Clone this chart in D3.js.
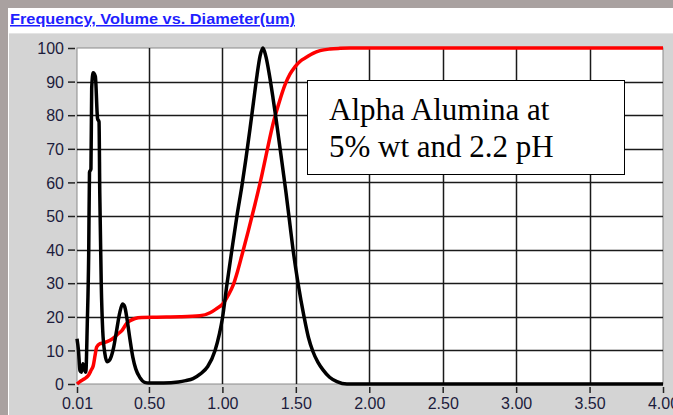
<!DOCTYPE html>
<html><head><meta charset="utf-8">
<script src="https://cdn.jsdelivr.net/npm/d3@7"></script>
<style>html,body{margin:0;padding:0;background:#fff;overflow:hidden}</style>
</head><body>
<svg id="c" width="673" height="415"></svg>
<script>
const title = "Frequency, Volume vs. Diameter(um)";
const annotationLines = ["Alpha Alumina at", "5% wt and 2.2 pH"];
const xTicks = [0.01, 0.5, 1.0, 1.5, 2.0, 2.5, 3.0, 3.5, 4.0];
const xTickLabels = ["0.01","0.50","1.00","1.50","2.00","2.50","3.00","3.50","4.00"];
const yTicks = [0,10,20,30,40,50,60,70,80,90,100];

// Frequency (black)
const freqX = [0.01,0.02,0.03,0.04,0.05,0.06,0.07,0.08,0.09,0.095,0.105,0.11,0.12,0.135,0.15,0.16,0.165,0.175,0.185,0.2,0.215,0.23,0.26,0.28,0.30,0.32,0.335,0.35,0.37,0.39,0.41,0.44,0.47,0.5,0.6,0.7,0.75,0.8,0.85,0.9,0.95,0.98,1.0,1.031,1.065,1.099,1.133,1.16,1.188,1.212,1.236,1.256,1.276,1.296,1.32,1.345,1.365,1.39,1.41,1.433,1.457,1.481,1.515,1.556,1.585,1.617,1.65,1.685,1.73,1.78,1.848,2.5,3.0,3.5,4.0];
const freqY = [13.5,10,4,3.5,6,4.5,3.5,18,40,63,64,88,92.6,91.5,79,78,57,30,16,9,6.6,7,11,16,21,23.8,23,19.5,13.5,8,4.5,1.8,0.5,0.3,0.3,0.6,1.0,1.6,3.0,5.2,10,15,19.5,29.7,40,50,59,67,76,84,92,97.5,100,97.5,92,85,79,71,64.5,57,48.5,40,30,20,14,9.6,6.5,4.2,2,0.7,0,0,0,0,0];

// Volume (red, cumulative)
const volX = [0.01,0.03,0.058,0.087,0.105,0.121,0.133,0.144,0.167,0.187,0.235,0.255,0.289,0.314,0.348,0.371,0.405,0.45,0.553,0.711,0.847,0.916,0.956,1.006,1.038,1.074,1.103,1.131,1.176,1.222,1.268,1.297,1.324,1.351,1.381,1.426,1.46,1.494,1.528,1.574,1.617,1.665,1.733,1.801,1.869,2.5,3.0,3.5,4.0];
const volY = [0,0.7,1.5,2.5,4,5.5,8.5,11,12,12.2,13,13.6,14.9,15.8,18,18.8,19.5,19.8,19.9,20,20.3,21.2,22.3,24,26.3,29.5,33.5,38,45.5,53.5,62,68,73.5,78.5,83,89,92.2,94.4,96,97.3,98.4,99.2,99.7,99.9,100,100,100,100,100];

const svg = d3.select("#c");
// background frames
svg.append("rect").attr("x",0).attr("y",0).attr("width",673).attr("height",415).attr("fill","#a9a1a0");
svg.append("rect").attr("x",8).attr("y",8).attr("width",665).attr("height",407).attr("fill","#ffffff");
svg.append("rect").attr("x",9).attr("y",33).attr("width",664).attr("height",382).attr("fill","#d4d4d4");
svg.append("line").attr("x1",9).attr("x2",673).attr("y1",33.5).attr("y2",33.5).attr("stroke","#e4e4e4");

svg.append("text").attr("x",10).attr("y",24).text(title)
  .attr("font-family","'Liberation Sans', Arial, sans-serif").attr("font-weight","bold").attr("font-size",15)
  .attr("fill","#1f1fff").attr("text-decoration","underline")
  .attr("textLength",285).attr("lengthAdjust","spacingAndGlyphs");

const x = d3.scaleLinear().domain([0.01,4.0]).range([77,663]);
const y = d3.scaleLinear().domain([0,100]).range([384,48]);

svg.append("rect").attr("x",77).attr("y",48).attr("width",586).attr("height",336).attr("fill","#fff").attr("stroke","#8a8a8a").attr("stroke-width",1);

// grid
const g = svg.append("g");
g.selectAll(".vg").data(xTicks.slice(1,-1)).join("line")
  .attr("x1",d=>Math.round(x(d))+0.5).attr("x2",d=>Math.round(x(d))+0.5).attr("y1",48).attr("y2",384)
  .attr("stroke","#1a1a1a").attr("stroke-width",1.5);
g.selectAll(".hg").data(yTicks.slice(1,-1)).join("line")
  .attr("y1",d=>Math.round(y(d))+0.5).attr("y2",d=>Math.round(y(d))+0.5).attr("x1",77).attr("x2",663)
  .attr("stroke","#1a1a1a").attr("stroke-width",1.5);

// axes
const font = "'Liberation Sans', Arial, sans-serif";
const yAxis = svg.append("g").attr("transform","translate(75,0)")
  .call(d3.axisLeft(y).tickValues(yTicks).tickSize(7).tickPadding(4).tickFormat(d3.format("d")));
const xAxis = svg.append("g").attr("transform","translate(0,387)")
  .call(d3.axisBottom(x).tickValues(xTicks).tickSize(6).tickPadding(5).tickFormat((d,i)=>xTickLabels[i]));
[yAxis,xAxis].forEach(a=>{
  a.select(".domain").remove();
  a.selectAll(".tick line").attr("stroke","#222").attr("stroke-width",1.5);
  a.selectAll(".tick text").attr("font-family",font).attr("font-size",16).attr("fill","#1c1c3c");
});
yAxis.selectAll(".tick text").attr("dy","0.35em");

const freq = freqX.map((v,i)=>[v,freqY[i]]);
const vol = volX.map((v,i)=>[v,volY[i]]);
const line = d3.line().x(d=>x(d[0])).y(d=>y(d[1])).curve(d3.curveMonotoneX);
svg.append("path").attr("d",line(vol)).attr("fill","none").attr("stroke","#ff0000").attr("stroke-width",3.5).attr("stroke-linejoin","round");
svg.append("path").attr("d",line(freq)).attr("fill","none").attr("stroke","#000").attr("stroke-width",3.5).attr("stroke-linejoin","round");

// annotation
svg.append("rect").attr("x",307.5).attr("y",80.5).attr("width",317).attr("height",94).attr("fill","#fff").attr("stroke","#000").attr("stroke-width",1);
svg.append("g").selectAll("text").data(annotationLines).join("text")
  .attr("x",329).attr("y",(d,i)=>120+i*37).text(d=>d)
  .attr("font-family","'Liberation Serif', 'Times New Roman', serif").attr("font-size",31).attr("fill","#000");
</script>
</body></html>
